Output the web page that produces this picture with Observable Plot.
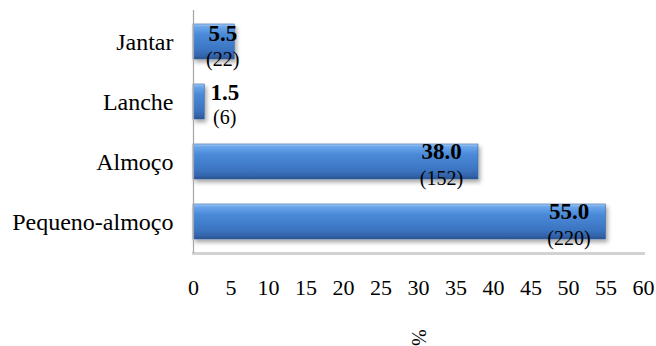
<!DOCTYPE html>
<html>
<head>
<meta charset="utf-8">
<script src="https://cdn.jsdelivr.net/npm/d3@7"></script>
<script src="https://cdn.jsdelivr.net/npm/@observablehq/plot@0.6"></script>
<style>
  html, body { margin: 0; padding: 0; background: white; }
  svg, svg text { font-family: "Liberation Serif", "Times New Roman", serif !important; }
</style>
</head>
<body>
<div id="chart"></div>
<script>
const categories = ["Jantar", "Lanche", "Almoço", "Pequeno-almoço"];
const percents = [5.5, 1.5, 38.0, 55.0];
const counts = [22, 6, 152, 220];
const xTicks = [0, 5, 10, 15, 20, 25, 30, 35, 40, 45, 50, 55, 60];
const axisTitle = "%";

const data = categories.map((c, i) => ({category: c, pct: percents[i], n: counts[i]}));
const serif = "Liberation Serif";

const big = data.filter(d => d.pct >= 10);
const jantar = data.filter(d => d.category === "Jantar");
const lanche = data.filter(d => d.category === "Lanche");

const valueText = d => d.pct.toFixed(1);
const countText = d => `(${d.n})`;

const chart = Plot.plot({
  width: 656,
  height: 346,
  marginLeft: 193,
  marginRight: 13,
  marginTop: 10,
  marginBottom: 93,
  style: {fontFamily: serif, background: "white", color: "black"},
  x: {domain: [0, 60], label: null},
  y: {domain: categories, paddingInner: 0.42, paddingOuter: 0.21, label: null},
  marks: [
    Plot.frame({anchor: "bottom", stroke: "#d2d2d2", strokeWidth: 3}),
    Plot.axisX({ticks: xTicks, tickSize: 0, tickPadding: 26, fontSize: 22, fontFamily: serif, label: null, tickFormat: d => String(d)}),
    Plot.axisY({tickSize: 0, tickPadding: 20, fontSize: 24, fontFamily: serif, label: null}),
    Plot.barX(data, {x: "pct", y: "category", fill: "url(#barGrad)", stroke: "#3a69a6", strokeWidth: 0.6}),
    Plot.ruleX([0], {stroke: "#a6a6a6", strokeWidth: 1.2}),
    Plot.text(big, {x: "pct", y: "category", text: valueText, dx: -37, dy: -10, fontWeight: "bold", fontSize: 23, fontFamily: serif, fill: "black"}),
    Plot.text(big, {x: "pct", y: "category", text: countText, dx: -37, dy: 17, fontSize: 20, fontFamily: serif, fill: "black"}),
    Plot.text(jantar, {x: "pct", y: "category", text: valueText, dx: -12, dy: -8, fontWeight: "bold", fontSize: 23, fontFamily: serif, fill: "black"}),
    Plot.text(jantar, {x: "pct", y: "category", text: countText, dx: -12, dy: 18, fontSize: 20, fontFamily: serif, fill: "black"}),
    Plot.text(lanche, {x: "pct", y: "category", text: valueText, dx: 20, dy: -9, fontWeight: "bold", fontSize: 23, fontFamily: serif, fill: "black"}),
    Plot.text(lanche, {x: "pct", y: "category", text: countText, dx: 20, dy: 16, fontSize: 20, fontFamily: serif, fill: "black"}),
    Plot.text([axisTitle], {frameAnchor: "bottom", text: d => d, dx: -7, dy: 84, rotate: 90, fontSize: 20, fontFamily: serif, fill: "black"})
  ]
});

const svg = d3.select(chart);
const defs = svg.insert("defs", ":first-child");
const g = defs.append("linearGradient").attr("id", "barGrad").attr("x1", 0).attr("y1", 0).attr("x2", 0).attr("y2", 1);
g.append("stop").attr("offset", "0%").attr("stop-color", "#a8cdf5");
g.append("stop").attr("offset", "8%").attr("stop-color", "#6aa6ec");
g.append("stop").attr("offset", "30%").attr("stop-color", "#4a8ad8");
g.append("stop").attr("offset", "75%").attr("stop-color", "#3b74c0");
g.append("stop").attr("offset", "92%").attr("stop-color", "#3262a8");
g.append("stop").attr("offset", "100%").attr("stop-color", "#27508a");
const f = defs.append("filter").attr("id", "barShadow").attr("x", "-10%").attr("y", "-20%").attr("width", "130%").attr("height", "160%");
f.append("feDropShadow").attr("dx", 2).attr("dy", 3).attr("stdDeviation", 2).attr("flood-color", "#000").attr("flood-opacity", 0.35);
svg.selectAll('g[aria-label="bar"]').attr("filter", "url(#barShadow)");

document.getElementById("chart").appendChild(chart);
</script>
</body>
</html>
